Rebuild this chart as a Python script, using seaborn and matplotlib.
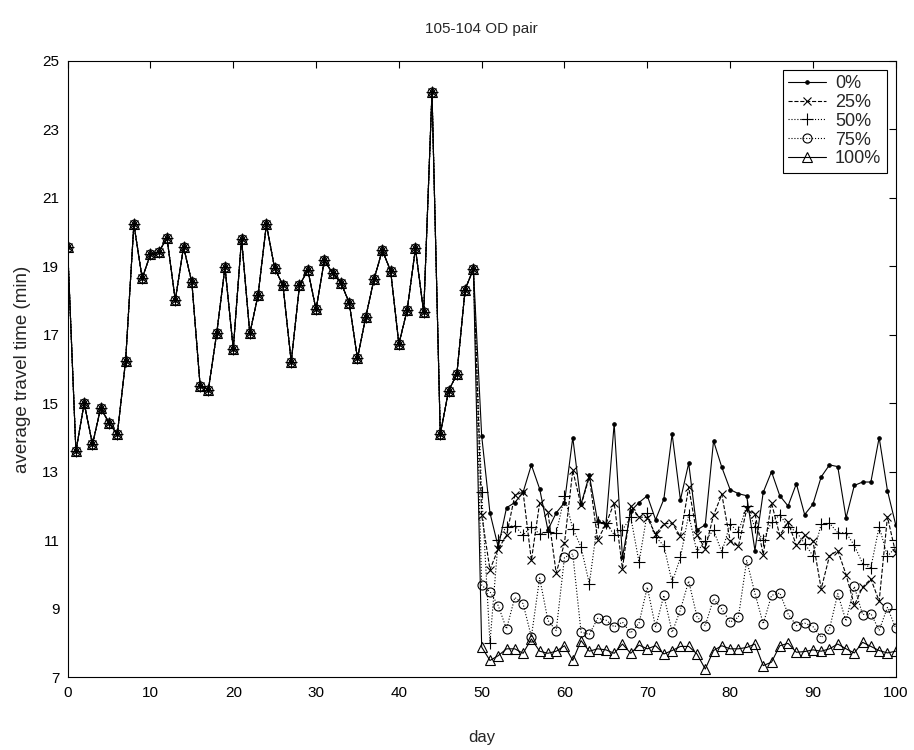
import numpy as np
import pandas as pd
import matplotlib
matplotlib.use("Agg")
import matplotlib.pyplot as plt
import seaborn as sns

# === Data ===
days = list(range(0, 101))

# days 0-49: all five scenarios coincide
shared = [19.55, 13.6, 15.0, 13.8, 14.87, 14.42, 14.1, 16.24, 20.23, 18.65,
          19.35, 19.42, 19.82, 18.01, 19.56, 18.53, 15.51, 15.4, 17.04, 18.97,
          16.59, 19.8, 17.04, 18.16, 20.22, 18.94, 18.45, 16.21, 18.44, 18.89,
          17.74, 19.18, 18.79, 18.52, 17.94, 16.31, 17.52, 18.62, 19.47, 18.87,
          16.73, 17.72, 19.52, 17.65, 24.08, 14.1, 15.36, 15.85, 18.32, 18.92]

# days 50-100 per scenario
p0 = [14.05, 11.8, 10.8, 11.95, 12.1, 12.4, 13.2, 12.5, 11.3, 11.8,
      12.1, 14.0, 12.05, 12.9, 11.55, 11.45, 14.4, 10.5, 11.85, 12.1,
      12.3, 11.6, 12.2, 14.1, 12.18, 13.25, 11.3, 11.45, 13.9, 13.13,
      12.48, 12.36, 12.3, 10.7, 12.4, 13.0, 12.3, 12.0, 12.65, 11.75,
      12.05, 12.85, 13.2, 13.15, 11.65, 12.6, 12.7, 12.7, 14.0, 12.45,
      11.45]
p25 = [11.73, 10.14, 10.75, 11.14, 12.31, 12.41, 10.41, 12.09, 11.82, 10.04,
       10.92, 13.04, 12.02, 12.85, 11.01, 11.47, 12.09, 10.17, 12.0, 11.68,
       11.66, 11.17, 11.48, 11.5, 11.11, 12.55, 11.16, 10.75, 11.73, 12.34,
       10.99, 10.82, 11.9, 11.78, 10.58, 12.09, 11.14, 11.53, 10.85, 11.14,
       10.98, 9.58, 10.54, 10.7, 10.0, 9.1, 9.63, 9.87, 9.22, 11.68,
       10.62]
p50 = [12.4, 8.0, 11.02, 11.4, 11.42, 11.15, 11.4, 11.18, 11.25, 11.2,
       12.28, 11.34, 10.8, 9.73, 11.53, 11.5, 11.16, 11.3, 11.68, 10.36,
       11.8, 11.1, 10.84, 9.77, 10.5, 11.75, 10.65, 10.99, 11.3, 10.65,
       11.47, 11.24, 12.0, 11.38, 11.0, 11.53, 11.74, 11.4, 11.25, 10.9,
       10.55, 11.47, 11.5, 11.22, 11.22, 10.85, 10.32, 10.2, 11.4, 10.53,
       10.8]
p75 = [9.68, 9.5, 9.09, 8.41, 9.33, 9.15, 8.18, 9.9, 8.66, 8.36,
       10.5, 10.6, 8.32, 8.25, 8.72, 8.67, 8.47, 8.61, 8.29, 8.58,
       9.63, 8.46, 9.39, 8.31, 8.97, 9.81, 8.77, 8.51, 9.29, 8.99,
       8.61, 8.75, 10.41, 9.45, 8.56, 9.39, 9.46, 8.85, 8.51, 8.58,
       8.48, 8.16, 8.41, 9.44, 8.64, 9.65, 8.83, 8.86, 8.37, 9.04,
       8.43]
p100 = [7.88, 7.49, 7.63, 7.83, 7.83, 7.7, 8.12, 7.76, 7.7, 7.76,
        7.92, 7.49, 8.07, 7.76, 7.83, 7.8, 7.7, 7.97, 7.7, 7.94,
        7.83, 7.92, 7.68, 7.78, 7.9, 7.9, 7.68, 7.24, 7.78, 7.92,
        7.83, 7.83, 7.87, 7.97, 7.34, 7.44, 7.92, 7.99, 7.73, 7.75,
        7.8, 7.76, 7.83, 7.97, 7.83, 7.71, 8.02, 7.9, 7.78, 7.71,
        7.76]

labels = ["0%", "25%", "50%", "75%", "100%"]
tails = [p0, p25, p50, p75, p100]

# === Styles per scenario ===
styles = {
    "0%":   dict(linestyle="-",  marker=".", markersize=5, markerfacecolor="black"),
    "25%":  dict(linestyle="--", marker="x", markersize=6, markerfacecolor="black"),
    "50%":  dict(linestyle=":",  marker="+", markersize=8, markerfacecolor="black"),
    "75%":  dict(linestyle=":",  marker="o", markersize=6.5, markerfacecolor="none"),
    "100%": dict(linestyle="-",  marker="^", markersize=6.5, markerfacecolor="none"),
}

sns.set_style("white")
plt.rcParams["font.family"] = ["Liberation Sans", "DejaVu Sans"]

fig, ax = plt.subplots(figsize=(9.14, 7.5), dpi=100)
fig.subplots_adjust(left=0.074, right=0.98, top=0.919, bottom=0.097)

for lab, tail in zip(labels, tails):
    df = pd.DataFrame({"day": days, "time": shared + tail})
    sns.lineplot(data=df, x="day", y="time", ax=ax, color="black",
                 linewidth=0.8, markeredgecolor="black", markeredgewidth=0.8,
                 label=lab, **styles[lab])

ax.set_xlim(0, 100)
ax.set_ylim(7, 25)
ax.set_xticks(range(0, 101, 10))
ax.set_yticks(range(7, 26, 2))
ax.tick_params(direction="in", top=True, right=True, length=5, width=0.8,
               labelsize=11, colors="black", pad=6)
for sp in ax.spines.values():
    sp.set_color("black")
    sp.set_linewidth(0.8)

ax.set_title("105-104 OD pair", fontsize=11, pad=20)
ax.set_xlabel("day", fontsize=12, labelpad=22)
ax.set_ylabel("average travel time (min)", fontsize=13.5, labelpad=8)

leg = ax.legend(loc="upper right", fontsize=13, frameon=True, fancybox=False,
                edgecolor="black", framealpha=1, handlelength=2.1,
                handletextpad=0.5, borderaxespad=0.5, labelspacing=0.1,
                borderpad=0.3)
leg.get_frame().set_linewidth(0.8)

plt.savefig("out.png", dpi=100)
